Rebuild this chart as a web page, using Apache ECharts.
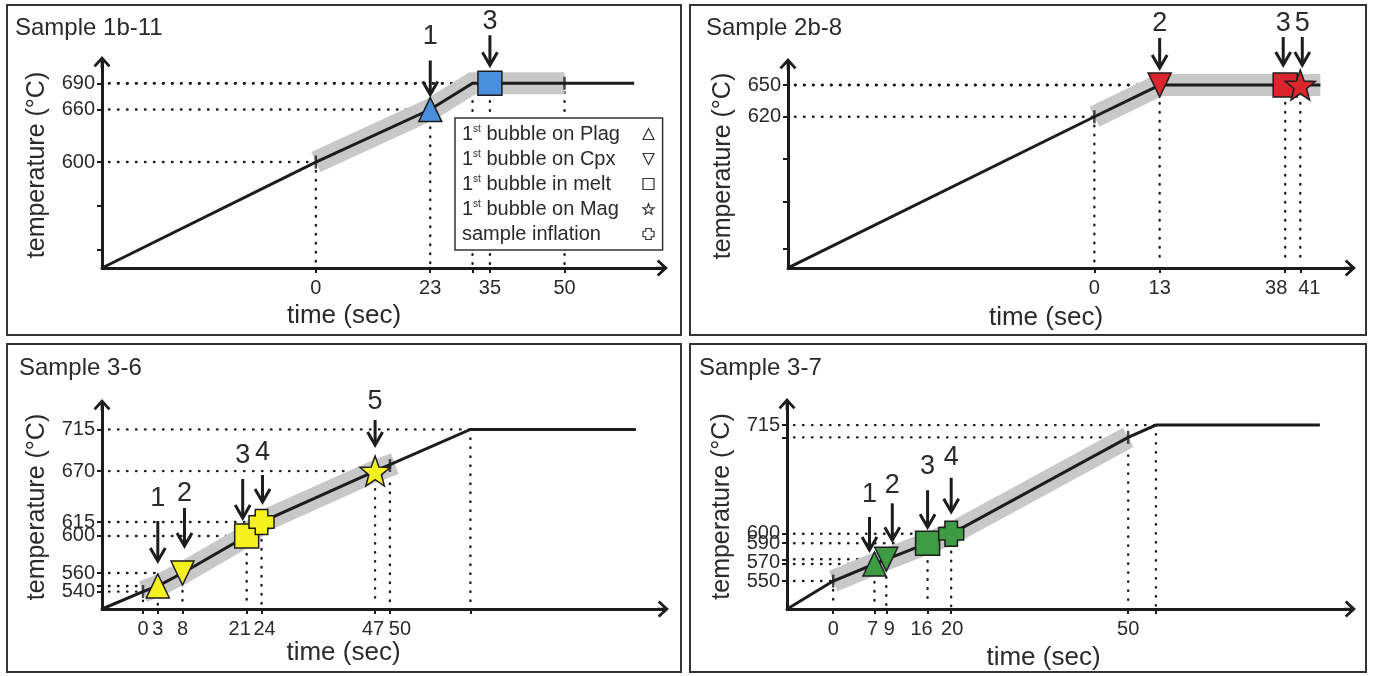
<!DOCTYPE html>
<html>
<head>
<meta charset="utf-8">
<script src="https://cdn.jsdelivr.net/npm/echarts@6/dist/echarts.min.js"></script>
<style>
html, body { margin: 0; padding: 0; background: #fff; }
#chart { width: 1373px; height: 676px; }
</style>
</head>
<body>
<div id="chart"></div>
<script>
// ---- values ----
// Sample 1b-11
var s1Time = [-43, 0, 23, 31.5, 64];
var s1Temp = [479, 600, 660, 690, 690];
var s1BandTime = [0, 23, 31.5, 50];
var s1BandTemp = [600, 660, 690, 690];
var s1EventTime = [23, 35];
var s1EventTemp = [660, 690];
var s1EventKind = ['plag', 'melt'];
var s1EventNum = ['1', '3'];
var s1GuideTime = [0, 23, 31.5, 35, 50];
var s1GuideTemp = [600, 660, 690, 690, 690];
var s1MarkTime = [0, 50];
var s1MarkTemp = [600, 690];
var s1TimeLabels = [0, 23, 35, 50];
var s1TimeTicks = [0, 23, 31.5, 35, 50];
var s1TempLabels = [600, 660, 690];
var s1TempTicks = [500, 550, 600, 660, 690];

// Sample 2b-8
var s2Time = [-61, 0, 13, 45];
var s2Temp = [477, 620, 650, 650];
var s2BandTime = [0, 13, 45];
var s2BandTemp = [620, 650, 650];
var s2EventTime = [13, 38, 41];
var s2EventTemp = [650, 650, 650];
var s2EventKind = ['cpx', 'melt', 'mag'];
var s2EventNum = ['2', '3', '5'];
var s2GuideTime = [0, 13, 38, 41];
var s2GuideTemp = [620, 650, 650, 650];
var s2MarkTime = [0];
var s2MarkTemp = [620];
var s2TimeLabels = [0, 13, 38, 41];
var s2TimeTicks = [0, 13, 38, 41];
var s2TempLabels = [620, 650];
var s2TempTicks = [495, 540, 580, 620, 650];

// Sample 3-6
var s3Time = [-8.3, 0, 3, 8, 21, 24, 47, 66.3, 99.8];
var s3Temp = [521.2, 540, 546, 560, 600, 615, 670, 715, 715];
var s3BandTime = [0, 3, 8, 21, 24, 47, 51];
var s3BandTemp = [540, 546, 560, 600, 615, 670, 678];
var s3EventTime = [3, 8, 21, 24, 47];
var s3EventTemp = [546, 560, 600, 615, 670];
var s3EventKind = ['plag', 'cpx', 'melt', 'infl', 'mag'];
var s3EventNum = ['1', '2', '3', '4', '5'];
var s3GuideTime = [0, 3, 8, 21, 24, 47, 66.3];
var s3GuideTemp = [540, 546, 560, 600, 615, 670, 715];
var s3DropTime = [50];
var s3DropTemp = [676];
var s3MarkTime = [0, 50];
var s3MarkTemp = [540, 676];
var s3TimeLabels = [0, 3, 8, 21, 24, 47, 50];
var s3TimeTicks = [0, 3, 8, 21, 24, 47, 50, 66.3];
var s3TempLabels = [600, 540, 560, 615, 670, 715];
var s3TempTicks = [540, 546, 560, 600, 615, 670, 715];

// Sample 3-7
var s4Time = [-7.8, 0, 7, 9, 16, 20, 50, 54.7, 82.5];
var s4Temp = [520.4, 550, 568, 573, 590, 600, 702, 715, 715];
var s4BandTime = [0, 7, 9, 16, 20, 50];
var s4BandTemp = [550, 568, 573, 590, 600, 702];
var s4EventTime = [7, 9, 16, 20];
var s4EventTemp = [568, 573, 590, 600];
var s4EventKind = ['plag', 'cpx', 'melt', 'infl'];
var s4EventNum = ['1', '2', '3', '4'];
var s4GuideTime = [0, 7, 9, 16, 20, 50, 54.7];
var s4GuideTemp = [550, 568, 573, 590, 600, 702, 715];
var s4MarkTime = [0, 50];
var s4MarkTemp = [550, 702];
var s4TimeLabels = [0, 7, 9, 16, 20, 50];
var s4TimeTicks = [0, 7, 9, 16, 20, 50, 54.7];
var s4TempLabels = [590, 550, 570, 600, 715];
var s4TempTicks = [550, 568, 573, 590, 600, 702, 715];

var kindOrder = ['plag', 'cpx', 'melt', 'mag', 'infl'];
var kindName = {
    plag: '1st bubble on Plag',
    cpx: '1st bubble on Cpx',
    melt: '1st bubble in melt',
    mag: '1st bubble on Mag',
    infl: 'sample inflation'
};

// ---- styles ----
var INK = '#1c1c1c';
var TXT = '#2a2a2a';
var FONT = 'Liberation Sans, Arial, Helvetica, sans-serif';
var LEGEND_FS = 20;
var LEGEND_TEXT_W = 176;

function starPath() {
    var pts = [];
    for (var i = 0; i < 10; i++) {
        var r = i % 2 ? 0.42 : 1;
        var a = Math.PI / 5 * i - Math.PI / 2;
        pts.push((50 + 50 * r * Math.cos(a)).toFixed(1) + ' ' + (50 + 50 * r * Math.sin(a)).toFixed(1));
    }
    return 'path://M' + pts.join(' L') + ' Z';
}
var kindSymbol = {
    plag: 'triangle',
    cpx: 'path://M0 0 L24 0 L12 24 Z',
    melt: 'rect',
    mag: starPath(),
    infl: 'path://M6 0 H18 V6 H24 V18 H18 V24 H6 V18 H0 V6 H6 Z'
};
var kindSize = { plag: [23, 24], cpx: [23, 24], melt: 24, mag: 30, infl: 25 };
var axisArrow = 'path://M10 0 L20 11 L17.6 13.2 L11.6 6.6 L11.6 14 L8.4 14 L8.4 6.6 L2.4 13.2 L0 11 Z';

var panels = [
    {
        title: 'Sample 1b-11', titleLeft: 10, titleTop: 11,
        grid: { left: 102, top: 62, width: 560, height: 206 },
        xRange: [-43, 69.6], yRange: [479, 714.3], color: '#4a8fdb',
        time: s1Time, temp: s1Temp, bandTime: s1BandTime, bandTemp: s1BandTemp,
        evTime: s1EventTime, evTemp: s1EventTemp, evKind: s1EventKind, evNum: s1EventNum,
        guideTime: s1GuideTime, guideTemp: s1GuideTemp, dropTime: [], dropTemp: [],
        markTime: s1MarkTime, markTemp: s1MarkTemp,
        xLabels: s1TimeLabels, xTicks: s1TimeTicks, yLabels: s1TempLabels, yTicks: s1TempTicks,
        arrows: [[0, 15, 34, 24], [0, 18, 30, 14]], // dx, gap, length, number gap
        shift: {}, xNameGap: 35, xNamePad: 76
    },
    {
        title: 'Sample 2b-8', titleLeft: 701, titleTop: 11,
        grid: { left: 788, top: 64, width: 562, height: 204 },
        xRange: [-61, 50.9], yRange: [476.9, 669.9], color: '#d8262c',
        time: s2Time, temp: s2Temp, bandTime: s2BandTime, bandTemp: s2BandTemp,
        evTime: s2EventTime, evTemp: s2EventTemp, evKind: s2EventKind, evNum: s2EventNum,
        guideTime: s2GuideTime, guideTemp: s2GuideTemp, dropTime: [], dropTemp: [],
        markTime: s2MarkTime, markTemp: s2MarkTemp,
        xLabels: s2TimeLabels, xTicks: s2TimeTicks, yLabels: s2TempLabels, yTicks: s2TempTicks,
        arrows: [[0, 17, 30, 14], [-2, 20, 28, 13], [2, 20, 28, 13]],
        shift: { 38: -9, 41: 9 }, xNameGap: 37, xNamePad: 46
    },
    {
        title: 'Sample 3-6', titleLeft: 14, titleTop: 351,
        grid: { left: 102, top: 405, width: 561, height: 204 },
        xRange: [-8.3, 105.3], yRange: [521.2, 741.3], color: '#f5f01f',
        time: s3Time, temp: s3Temp, bandTime: s3BandTime, bandTemp: s3BandTemp,
        evTime: s3EventTime, evTemp: s3EventTemp, evKind: s3EventKind, evNum: s3EventNum,
        guideTime: s3GuideTime, guideTemp: s3GuideTemp, dropTime: s3DropTime, dropTemp: s3DropTemp,
        markTime: s3MarkTime, markTemp: s3MarkTemp,
        xLabels: s3TimeLabels, xTicks: s3TimeTicks, yLabels: s3TempLabels, yTicks: s3TempTicks,
        arrows: [[0, 25, 40, 22], [2, 27, 38, 14], [-4, 18, 39, 23], [1, 20, 27, 23], [0, 26, 25, 19]],
        shift: { 21: -7, 24: 3, 47: -2, 50: 10 }, xNameGap: 30, xNamePad: 78
    },
    {
        title: 'Sample 3-7', titleLeft: 694, titleTop: 351,
        grid: { left: 787, top: 404, width: 563, height: 205 },
        xRange: [-7.83, 87.6], yRange: [520.4, 737.3], color: '#3f9a44',
        time: s4Time, temp: s4Temp, bandTime: s4BandTime, bandTemp: s4BandTemp,
        evTime: s4EventTime, evTemp: s4EventTemp, evKind: s4EventKind, evNum: s4EventNum,
        guideTime: s4GuideTime, guideTemp: s4GuideTemp, dropTime: [], dropTemp: [],
        markTime: s4MarkTime, markTemp: s4MarkTemp,
        xLabels: s4TimeLabels, xTicks: s4TimeTicks, yLabels: s4TempLabels, yTicks: s4TempTicks,
        arrows: [[-5, 14, 33, 22], [6, 19, 37, 18], [0, 16, 37, 24], [0, 22, 34, 20]],
        shift: { 7: -2, 9: 3, 16: -6, 20: 1 }, xNameGap: 36, xNamePad: 50
    }
];

function zip(a, b) {
    return a.map(function (v, i) { return [v, b[i]]; });
}

function dotStyle() {
    return { stroke: INK, lineWidth: 2.4, lineDash: [0.5, 8.5], lineCap: 'round', fill: null };
}

// dotted lines from the axes to a point on the curve
function guideRender(hor) {
    return function (params, api) {
        var p = api.coord([api.value(0), api.value(1)]);
        var cs = params.coordSys;
        var base = cs.y + cs.height;
        var kids = [];
        if (hor) {
            kids.push({ type: 'line', shape: { x1: cs.x + 7, y1: p[1], x2: p[0], y2: p[1] }, style: dotStyle() });
        }
        kids.push({ type: 'line', shape: { x1: p[0], y1: p[1], x2: p[0], y2: base - 3 }, style: dotStyle() });
        return { type: 'group', children: kids };
    };
}

// numbered down arrows above events
function arrowRender(styles, nums) {
    return function (params, api) {
        var st = styles[params.dataIndex];
        var p = api.coord([api.value(0), api.value(1)]);
        var x = p[0] + st[0];
        var tip = p[1] - st[1];
        var top = tip - st[2];
        return {
            type: 'group',
            children: [
                { type: 'line', shape: { x1: x, y1: top, x2: x, y2: tip - 1 }, style: { stroke: INK, lineWidth: 3 } },
                { type: 'polyline', shape: { points: [[x - 7.5, tip - 13], [x, tip], [x + 7.5, tip - 13]] },
                  style: { stroke: INK, lineWidth: 3, fill: null, lineJoin: 'miter' } },
                { type: 'text', style: { text: nums[params.dataIndex], x: x, y: top - st[3], fill: TXT,
                  fontSize: 27, fontFamily: FONT, align: 'center', verticalAlign: 'middle' } }
            ]
        };
    };
}

function xLabelStyle(shift) {
    var keys = Object.keys(shift);
    var rich = {};
    keys.forEach(function (k, i) {
        var d = shift[k];
        rich['s' + i] = { fontSize: 20, color: TXT, fontFamily: FONT,
            padding: d < 0 ? [0, -2 * d, 0, 0] : [0, 0, 0, 2 * d] };
    });
    return {
        formatter: function (v) {
            var i = keys.indexOf(String(v));
            return i < 0 ? String(v) : '{s' + i + '|' + v + '}';
        },
        rich: rich
    };
}

// legend text: superscript "st" and a trailing pad so every row has the same width
var measureCtx = document.createElement('canvas').getContext('2d');
function textWidth(str, size) {
    measureCtx.font = size + 'px "Liberation Sans", Arial, sans-serif';
    return measureCtx.measureText(str).width;
}
var legendRich = { s: { fontSize: 10, verticalAlign: 'top', lineHeight: 20, color: TXT } };
var legendText = {};
kindOrder.forEach(function (k, i) {
    var name = kindName[k];
    var w;
    var txt;
    if (name.indexOf('1st') === 0) {
        var rest = name.slice(3);
        w = textWidth('1', LEGEND_FS) + textWidth('st', 10) + textWidth(rest, LEGEND_FS);
        txt = '1{s|st}' + rest;
    } else {
        w = textWidth(name, LEGEND_FS);
        txt = name;
    }
    legendRich['p' + i] = { width: Math.max(1, LEGEND_TEXT_W - w), fontSize: LEGEND_FS };
    legendText[name] = txt + '{p' + i + '| }';
});

var option = {
    animation: false,
    backgroundColor: '#fff',
    textStyle: { fontFamily: FONT },
    title: [],
    grid: [],
    xAxis: [],
    yAxis: [],
    series: [],
    legend: {
        orient: 'vertical',
        left: 455,
        top: 118,
        padding: [6, 8, 6, 7],
        itemGap: 5,
        itemWidth: 11,
        itemHeight: 11,
        align: 'right',
        borderColor: '#333',
        borderWidth: 1.5,
        backgroundColor: '#fff',
        selectedMode: false,
        formatter: function (name) {
            return legendText[name];
        },
        textStyle: {
            fontSize: LEGEND_FS,
            color: TXT,
            lineHeight: 20,
            rich: legendRich
        },
        data: kindOrder.map(function (k) {
            return { name: kindName[k], icon: kindSymbol[k],
                itemStyle: { color: '#fff', borderColor: '#333', borderWidth: 1.2 } };
        })
    },
    graphic: [
        { type: 'rect', shape: { x: 7, y: 5, width: 674, height: 330 }, style: { fill: null, stroke: '#333', lineWidth: 2 }, silent: true },
        { type: 'rect', shape: { x: 690, y: 5, width: 676, height: 330 }, style: { fill: null, stroke: '#333', lineWidth: 2 }, silent: true },
        { type: 'rect', shape: { x: 7, y: 344, width: 674, height: 328 }, style: { fill: null, stroke: '#333', lineWidth: 2 }, silent: true },
        { type: 'rect', shape: { x: 690, y: 344, width: 676, height: 328 }, style: { fill: null, stroke: '#333', lineWidth: 2 }, silent: true }
    ]
};

panels.forEach(function (p, k) {
    option.title.push({
        text: p.title, left: p.titleLeft, top: p.titleTop,
        textStyle: { fontSize: 24, fontWeight: 'normal', color: TXT, fontFamily: FONT }
    });
    option.grid.push(p.grid);

    var xl = xLabelStyle(p.shift);
    option.xAxis.push({
        type: 'value', gridIndex: k, min: p.xRange[0], max: p.xRange[1],
        name: 'time (sec)', nameLocation: 'middle', nameGap: p.xNameGap,
        nameTextStyle: { fontSize: 26, color: TXT, padding: [0, p.xNamePad, 0, 0] },
        axisLine: { show: true, onZero: false, symbol: ['none', axisArrow], symbolSize: [17, 13],
            lineStyle: { color: INK, width: 3 } },
        axisTick: { show: true, length: 5, customValues: p.xTicks, lineStyle: { color: INK, width: 2 } },
        axisLabel: { show: true, margin: 10, fontSize: 20, color: TXT, customValues: p.xLabels,
            showMinLabel: true, showMaxLabel: true, hideOverlap: false,
            formatter: xl.formatter, rich: xl.rich },
        splitLine: { show: false }
    });
    option.yAxis.push({
        type: 'value', gridIndex: k, min: p.yRange[0], max: p.yRange[1],
        name: 'temperature (°C)', nameLocation: 'middle', nameGap: 52, nameRotate: 90,
        nameTextStyle: { fontSize: 25, color: TXT },
        axisLine: { show: true, onZero: false, symbol: ['none', axisArrow], symbolSize: [17, 13],
            lineStyle: { color: INK, width: 3 } },
        axisTick: { show: true, length: 5, customValues: p.yTicks, lineStyle: { color: INK, width: 2 } },
        axisLabel: { show: true, margin: 7, fontSize: 20, color: TXT, customValues: p.yLabels,
            showMinLabel: true, showMaxLabel: true, hideOverlap: false },
        splitLine: { show: false }
    });

    option.series.push({
        type: 'custom', xAxisIndex: k, yAxisIndex: k, silent: true, z: 1,
        renderItem: guideRender(true), encode: { x: 0, y: 1 },
        data: zip(p.guideTime, p.guideTemp)
    });
    if (p.dropTime.length) {
        option.series.push({
            type: 'custom', xAxisIndex: k, yAxisIndex: k, silent: true, z: 1,
            renderItem: guideRender(false), encode: { x: 0, y: 1 },
            data: zip(p.dropTime, p.dropTemp)
        });
    }
    option.series.push({
        type: 'line', xAxisIndex: k, yAxisIndex: k, silent: true, z: 2,
        symbol: 'none', data: zip(p.bandTime, p.bandTemp),
        lineStyle: { color: '#c8c8c8', width: 22, cap: 'butt', join: 'miter' }
    });
    option.series.push({
        type: 'line', xAxisIndex: k, yAxisIndex: k, silent: true, z: 3,
        symbol: 'none', data: zip(p.time, p.temp),
        lineStyle: { color: INK, width: 3, join: 'miter' }
    });
    option.series.push({
        type: 'scatter', xAxisIndex: k, yAxisIndex: k, silent: true, z: 3,
        symbol: 'rect', symbolSize: [2.5, 13], itemStyle: { color: INK },
        data: zip(p.markTime, p.markTemp)
    });
    kindOrder.forEach(function (kind) {
        var pts = [];
        p.evKind.forEach(function (ek, i) {
            if (ek === kind) pts.push([p.evTime[i], p.evTemp[i]]);
        });
        if (!pts.length) return;
        option.series.push({
            type: 'scatter', name: kindName[kind], xAxisIndex: k, yAxisIndex: k, silent: true, z: 4,
            symbol: kindSymbol[kind], symbolSize: kindSize[kind],
            itemStyle: { color: p.color, borderColor: INK, borderWidth: 1.5, opacity: 1 },
            data: pts
        });
    });
    option.series.push({
        type: 'custom', xAxisIndex: k, yAxisIndex: k, silent: true, z: 5,
        renderItem: arrowRender(p.arrows, p.evNum), encode: { x: 0, y: 1 },
        data: zip(p.evTime, p.evTemp)
    });
});

var chart = echarts.init(document.getElementById('chart'));
chart.setOption(option);
</script>
</body>
</html>
